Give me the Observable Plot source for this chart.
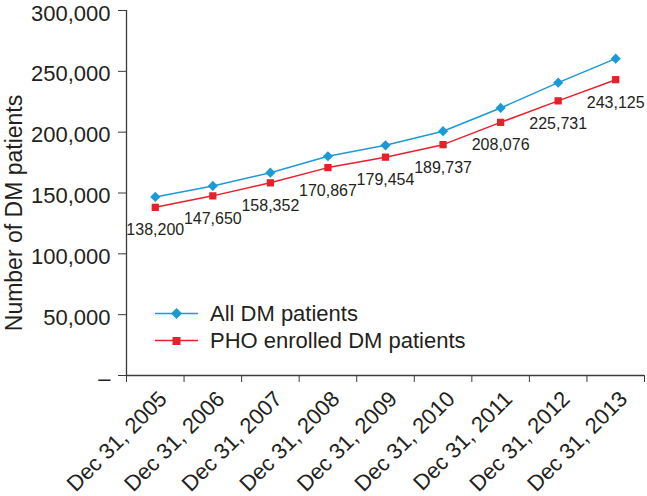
<!DOCTYPE html>
<html>
<head>
<meta charset="utf-8">
<script src="https://cdn.jsdelivr.net/npm/d3@7"></script>
<script src="https://cdn.jsdelivr.net/npm/@observablehq/plot@0.6"></script>
<style>
  html, body { margin: 0; padding: 0; background: #fff; }
  #wrap { position: relative; width: 647px; height: 496px; font-family: "Liberation Sans", Arial, sans-serif; color: #231f20; }
  #legend { position: absolute; left: 155px; top: 300px; font-size: 22px; line-height: 27px; }
  #legend .row { display: flex; align-items: center; height: 27px; }
  #legend svg { margin-right: 12px; }
</style>
</head>
<body>
<div id="wrap"></div>
<script>
const dates = ["Dec 31, 2005", "Dec 31, 2006", "Dec 31, 2007", "Dec 31, 2008", "Dec 31, 2009",
               "Dec 31, 2010", "Dec 31, 2011", "Dec 31, 2012", "Dec 31, 2013"];
const allDM = [146800, 155800, 166700, 180200, 189200, 200800, 219900, 240700, 260400];
const phoDM = [138200, 147650, 158352, 170867, 179454, 189737, 208076, 225731, 243125];
const yTicks = [0, 50000, 100000, 150000, 200000, 250000, 300000];
const seriesNames = ["All DM patients", "PHO enrolled DM patients"];
const seriesColors = ["#1b9ad7", "#e8202a"];

const allRows = dates.map((d, i) => ({i, v: allDM[i]}));
const phoRows = dates.map((d, i) => ({i, v: phoDM[i]}));
const fmt = d3.format(",");
const ink = "#3a3a3a";

const chart = Plot.plot({
  width: 647,
  height: 496,
  marginLeft: 126,
  marginRight: 3,
  marginTop: 10,
  marginBottom: 121,
  style: {fontFamily: "'Liberation Sans', Arial, sans-serif", color: "#231f20", background: "#fff", overflow: "visible"},
  x: {type: "linear", domain: [-0.5, dates.length - 0.5]},
  y: {domain: [0, 300000]},
  marks: [
    Plot.ruleX([-0.5], {stroke: ink, strokeWidth: 1.3}),
    Plot.ruleY([0], {stroke: ink, strokeWidth: 1.3}),
    Plot.axisY({ticks: yTicks, tickSize: 8, stroke: ink, tickFormat: () => "", label: null}),
    Plot.axisY({ticks: yTicks, tickSize: 0, tickPadding: 16, fontSize: 22, dy: 3,
      tickFormat: d => d === 0 ? "–" : fmt(d), label: null}),
    Plot.axisX({ticks: d3.range(-0.5, dates.length), tickSize: 7, stroke: ink,
      tickFormat: () => "", label: null}),
    Plot.axisX({ticks: d3.range(dates.length), tickSize: 0, tickRotate: -45, fontSize: 22,
      tickFormat: i => dates[i], label: null, dx: 8, dy: 8}),
    Plot.text([ "Number of DM patients" ], {frameAnchor: "left", textAnchor: "middle", rotate: -90, dx: -112, dy: 20, fontSize: 23, fill: "#231f20"}),
    Plot.line(allRows, {x: "i", y: "v", stroke: seriesColors[0], strokeWidth: 1.5}),
    Plot.dot(allRows, {x: "i", y: "v", symbol: "diamond2", r: 4.6, fill: seriesColors[0], stroke: "none"}),
    Plot.line(phoRows, {x: "i", y: "v", stroke: seriesColors[1], strokeWidth: 1.5}),
    Plot.dot(phoRows, {x: "i", y: "v", symbol: "square", r: 4.1, fill: seriesColors[1], stroke: "none"}),
    Plot.text(phoRows, {x: "i", y: "v", text: d => fmt(d.v), dy: 23, fontSize: 16, fill: "#231f20"})
  ]
});

const wrap = document.getElementById("wrap");
wrap.appendChild(chart);

const legend = document.createElement("div");
legend.id = "legend";
seriesNames.forEach((name, k) => {
  const row = document.createElement("div");
  row.className = "row";
  const sym = k === 0
    ? `<path d="M21.5,5 L27,10.5 L21.5,16 L16,10.5 Z" fill="${seriesColors[k]}"/>`
    : `<rect x="17.5" y="7" width="8" height="8" fill="${seriesColors[k]}"/>`;
  row.innerHTML = `<svg width="43" height="21"><line x1="0" x2="43" y1="10.5" y2="10.5" stroke="${seriesColors[k]}" stroke-width="1.5"/>${sym}</svg><span>${name}</span>`;
  legend.appendChild(row);
});
wrap.appendChild(legend);
</script>
</body>
</html>
